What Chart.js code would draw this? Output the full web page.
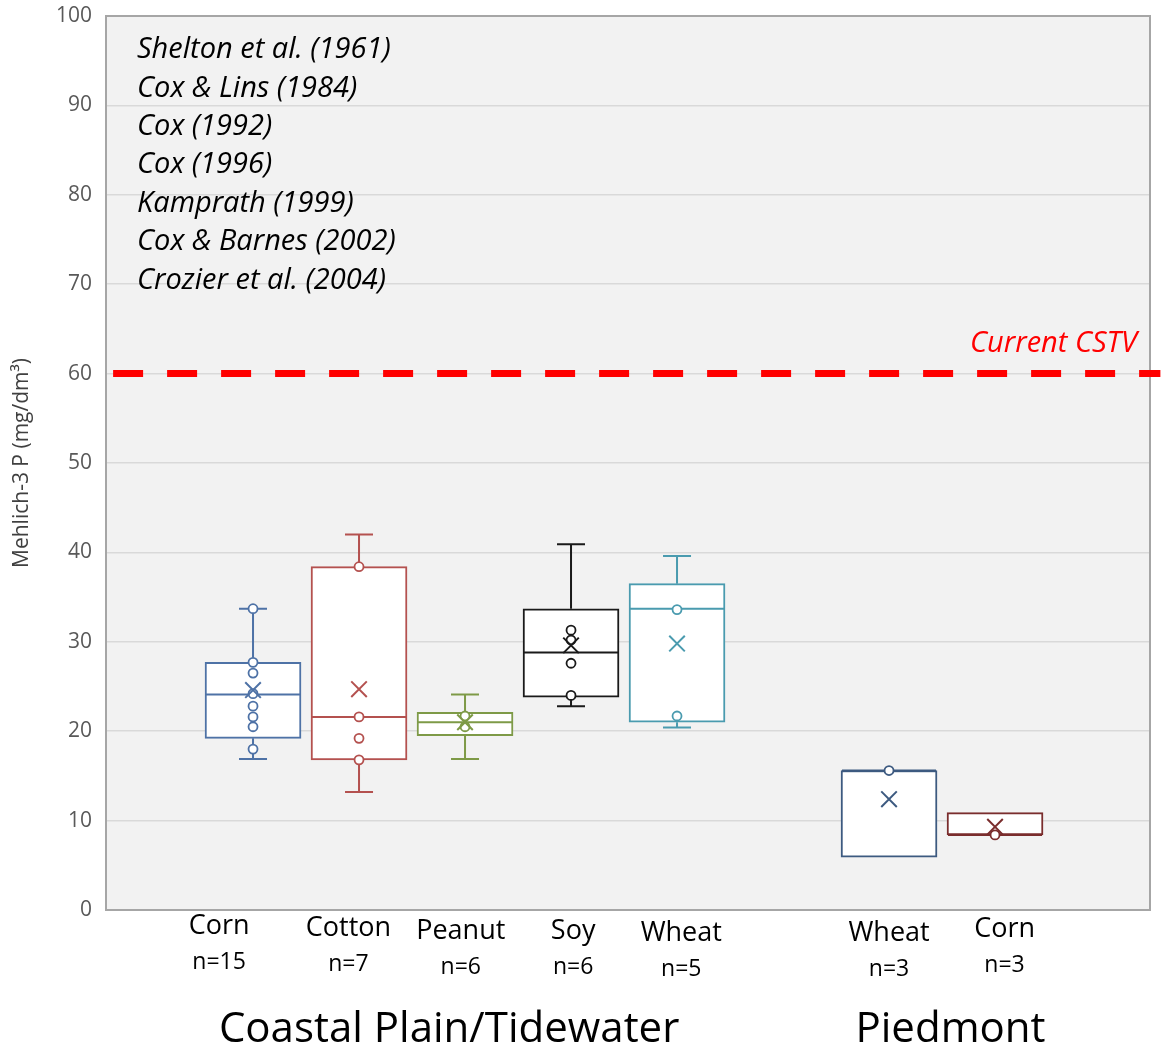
<!DOCTYPE html>
<html>
<head>
<meta charset="utf-8">
<script src="https://cdn.jsdelivr.net/npm/chart.js@4"></script>
<style>
  html, body { margin: 0; padding: 0; background: #fff; }
  #wrap { width: 1166px; height: 1053px; }
</style>
</head>
<body>
<div id="wrap"><canvas id="chart"></canvas></div>
<script>
// categories and group labels
const crops = ['Corn', 'Cotton', 'Peanut', 'Soy', 'Wheat', 'Wheat', 'Corn'];
const counts = ['n=15', 'n=7', 'n=6', 'n=6', 'n=5', 'n=3', 'n=3'];
const positions = [1, 2, 3, 4, 5, 7, 8];
const groups = ['Coastal Plain/Tidewater', 'Piedmont'];
const references = [
    'Shelton et al. (1961)', 'Cox & Lins (1984)', 'Cox (1992)', 'Cox (1996)',
    'Kamprath (1999)', 'Cox & Barnes (2002)', 'Crozier et al. (2004)'
];

// box plot values (mg/dm3)
const whiskerLow = [16.9, 13.2, 16.9, 22.8, 20.4, null, null];
const q1 = [19.2, 16.8, 19.5, 23.8, 21.0, 5.9, 8.4];
const median = [24.1, 21.6, 21.0, 28.8, 33.7, 15.6, 8.4];
const q3 = [27.7, 38.4, 22.1, 33.7, 36.5, 15.6, 10.9];
const whiskerHigh = [33.7, 42.0, 24.1, 40.9, 39.6, null, null];
const means = [24.6, 24.7, 21.0, 29.6, 29.8, 12.4, 9.3];
const points = [
    [33.7, 27.7, 26.5, 24.2, 22.8, 21.6, 20.5, 18.0],
    [38.4, 21.6, 19.2, 16.8],
    [21.7, 20.5],
    [31.3, 30.2, 27.6, 24.0],
    [33.6, 21.7],
    [15.6],
    [8.4]
];
const cstv = 60;

const colors = ['#4E72A6', '#B4514F', '#7E9A47', '#1A1A1A', '#4A9BAF', '#3D5A80', '#7A2D2D'];
const FONT = '"Open Sans", "Noto Sans", sans-serif';

const xMin = -0.387, xMax = 9.462;

const pointData = [], pointColors = [];
points.forEach((arr, i) => arr.forEach(v => {
    pointData.push({ x: positions[i], y: v });
    pointColors.push(colors[i]);
}));

const boxDecor = {
    id: 'boxDecor',
    beforeDraw(chart) {
        const { ctx, chartArea: a } = chart;
        ctx.save();
        ctx.fillStyle = '#F2F2F2';
        ctx.fillRect(a.left, a.top, a.right - a.left, a.bottom - a.top);
        ctx.restore();
    },
    beforeDatasetsDraw(chart) {
        const { ctx, chartArea: a } = chart;
        ctx.save();
        ctx.strokeStyle = '#A6A6A6';
        ctx.lineWidth = 2;
        ctx.strokeRect(a.left, a.top, a.right - a.left, a.bottom - a.top);
        ctx.restore();
    },
    afterDatasetDraw(chart, args) {
        if (args.index !== 0) return;
        const { ctx, scales: { x, y } } = chart;
        ctx.save();
        ctx.lineWidth = 2;
        positions.forEach((p, i) => {
            const px = x.getPixelForValue(p);
            ctx.strokeStyle = colors[i];
            ctx.beginPath();
            if (whiskerHigh[i] !== null) {
                const t = y.getPixelForValue(whiskerHigh[i]);
                ctx.moveTo(px, y.getPixelForValue(q3[i])); ctx.lineTo(px, t);
                ctx.moveTo(px - 14, t); ctx.lineTo(px + 14, t);
            }
            if (whiskerLow[i] !== null) {
                const b = y.getPixelForValue(whiskerLow[i]);
                ctx.moveTo(px, y.getPixelForValue(q1[i])); ctx.lineTo(px, b);
                ctx.moveTo(px - 14, b); ctx.lineTo(px + 14, b);
            }
            const m = y.getPixelForValue(median[i]);
            ctx.moveTo(px - 47, m); ctx.lineTo(px + 47, m);
            ctx.stroke();
        });
        ctx.restore();
    },
    afterDraw(chart) {
        const { ctx, chartArea: a, scales: { x, y } } = chart;
        ctx.save();
        ctx.fillStyle = '#000';
        ctx.textBaseline = 'middle';
        ctx.textAlign = 'left';
        ctx.font = 'italic 29px ' + FONT;
        references.forEach((r, i) => ctx.fillText(r, a.left + 31, a.top + 34 + i * 38.4));

        ctx.fillStyle = '#FF0000';
        ctx.textAlign = 'right';
        ctx.fillText('Current CSTV', a.right - 13, y.getPixelForValue(cstv) - 30);

        ctx.fillStyle = '#000';
        ctx.textAlign = 'center';
        const labelShift = [-0.32, -0.1, -0.04, 0.02, 0.04, 0, 0.09];
        const labelY = [926, 928, 931, 931, 933, 933, 929];
        positions.forEach((p, i) => {
            const px = x.getPixelForValue(p + labelShift[i]);
            ctx.font = '27px ' + FONT;
            ctx.fillText(crops[i], px, labelY[i]);
            ctx.font = '23px ' + FONT;
            ctx.fillText(counts[i], px, labelY[i] + 36);
        });
        ctx.font = '42px ' + FONT;
        ctx.fillText(groups[0], x.getPixelForValue(2.85), 1030);
        ctx.fillText(groups[1], x.getPixelForValue(7.58), 1030);
        ctx.restore();
    }
};

new Chart('chart', {
    type: 'bar',
    data: {
        datasets: [
            {
                label: 'boxes',
                data: positions.map((p, i) => ({ x: p, y: [q1[i], q3[i]] })),
                backgroundColor: '#FFFFFF',
                borderColor: colors,
                borderWidth: 2,
                borderSkipped: false,
                barThickness: 96,
                order: 3
            },
            {
                type: 'scatter',
                label: 'points',
                data: pointData,
                pointStyle: 'circle',
                pointRadius: 4.5,
                pointBorderWidth: 1.8,
                pointBackgroundColor: '#FFFFFF',
                pointBorderColor: pointColors,
                order: 2
            },
            {
                type: 'scatter',
                label: 'mean',
                data: positions.map((p, i) => ({ x: p, y: means[i] })),
                pointStyle: 'crossRot',
                pointRadius: 11,
                pointBorderWidth: 2,
                pointBorderColor: colors,
                order: 1
            },
            {
                type: 'line',
                label: 'CSTV',
                data: [{ x: -0.32, y: cstv }, { x: 9.56, y: cstv }],
                borderColor: '#FF0000',
                borderWidth: 7,
                borderDash: [30, 24],
                pointRadius: 0,
                clip: false,
                order: 0
            }
        ]
    },
    options: {
        responsive: true,
        maintainAspectRatio: false,
        animation: false,
        layout: { padding: { left: 0, right: 16, top: 16, bottom: 143 } },
        plugins: { legend: { display: false }, tooltip: { enabled: false } },
        scales: {
            x: { type: 'linear', min: xMin, max: xMax, offset: false, display: false },
            y: {
                min: 0, max: 100,
                ticks: { stepSize: 10, color: '#595959', font: { family: FONT, size: 21 }, padding: 14 },
                grid: { color: '#D9D9D9', lineWidth: 1.5, drawTicks: false },
                border: { display: false },
                title: {
                    display: true,
                    text: 'Mehlich-3 P (mg/dm³)',
                    color: '#404040',
                    font: { family: FONT, size: 21 },
                    padding: { top: 9, bottom: 0 }
                },
                afterFit(scale) {
                    scale.width = 106;
                    scale.paddingTop = 0;
                    scale.paddingBottom = 0;
                }
            }
        }
    },
    plugins: [boxDecor]
});
</script>
</body>
</html>
